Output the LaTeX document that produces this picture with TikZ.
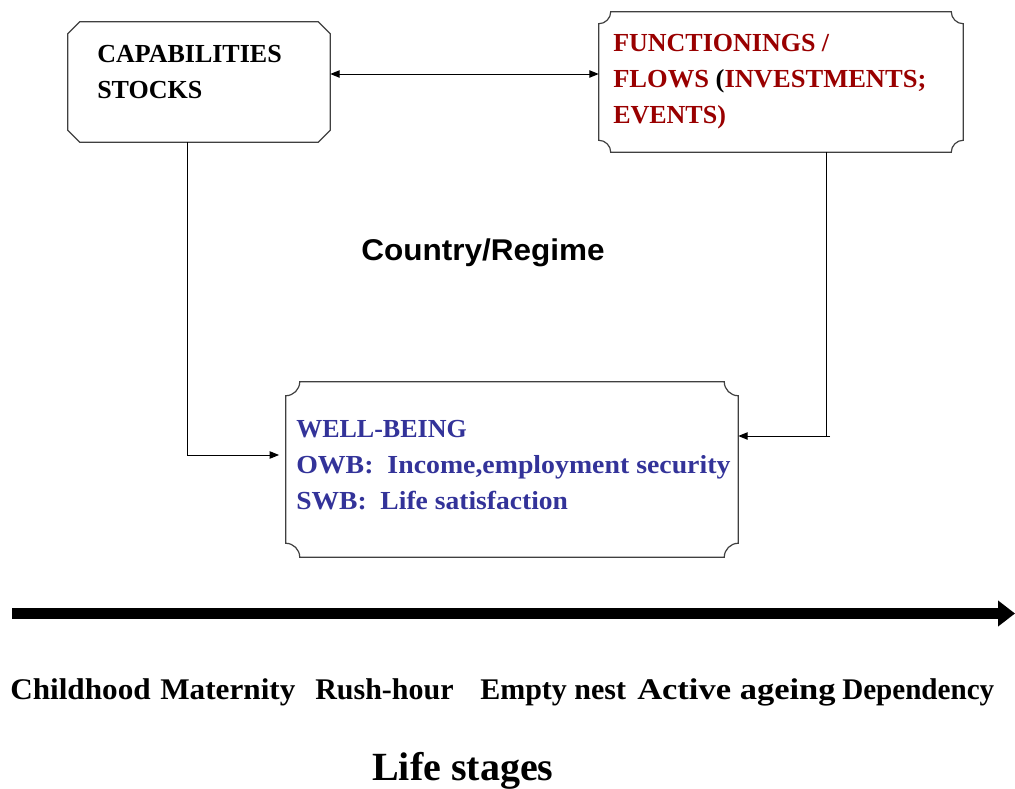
\documentclass[tikz,border=0pt]{standalone}
\usepackage{fontspec}
\setmainfont{Liberation Serif}
\newfontfamily\arialfont{Liberation Sans}
\usetikzlibrary{arrows.meta,calc}
\definecolor{darkred}{RGB}{153,0,0}
\definecolor{wbblue}{RGB}{51,51,153}
\newcommand\chamferoutline[2]{%
  \draw[boxline] ($(#1.north west)+(#2,0)$) -- ($(#1.north east)+(-#2,0)$) -- ($(#1.north east)+(0,#2)$)
    -- ($(#1.south east)+(0,-#2)$) -- ($(#1.south east)+(-#2,0)$) -- ($(#1.south west)+(#2,0)$)
    -- ($(#1.south west)+(0,-#2)$) -- ($(#1.north west)+(0,#2)$) -- cycle;}
\newcommand\plaqueoutline[2]{%
  \draw[boxline] ($(#1.north west)+(#2,0)$) -- ($(#1.north east)+(-#2,0)$)
    .. controls ($(#1.north east)+(-#2,0.55*#2)$) and ($(#1.north east)+(-0.55*#2,#2)$) .. ($(#1.north east)+(0,#2)$)
    -- ($(#1.south east)+(0,-#2)$)
    .. controls ($(#1.south east)+(-0.55*#2,-#2)$) and ($(#1.south east)+(-#2,-0.55*#2)$) .. ($(#1.south east)+(-#2,0)$)
    -- ($(#1.south west)+(#2,0)$)
    .. controls ($(#1.south west)+(#2,-0.55*#2)$) and ($(#1.south west)+(0.55*#2,-#2)$) .. ($(#1.south west)+(0,-#2)$)
    -- ($(#1.north west)+(0,#2)$)
    .. controls ($(#1.north west)+(0.55*#2,#2)$) and ($(#1.north west)+(#2,0.55*#2)$) .. cycle;}
\begin{document}
\begin{tikzpicture}[x=0.75pt,y=-0.75pt,
  boxline/.style={draw=black!75, line width=0.9pt},
  shapebox/.style={draw=none, inner sep=0pt},
  conn/.style={line width=0.75pt, -{Triangle[length=7pt,width=5.5pt]}},
  boxtext/.style={anchor=north west, inner sep=0pt, align=left, font=\fontsize{19.5}{27}\selectfont\bfseries},
  stage/.style={anchor=base west, inner sep=0pt, font=\fontsize{22.5}{27}\selectfont\bfseries}
]
\useasboundingbox (0,0) rectangle (1015,789);

% boxes
\node[shapebox, minimum width=196.5pt, minimum height=90pt] (b1) at (199,82) {};
\node[shapebox, minimum width=273pt, minimum height=105pt] (b2) at (781,82) {};
\node[shapebox, minimum width=339pt, minimum height=131.25pt] (b3) at (512,469.5) {};
\chamferoutline{b1}{12}
\plaqueoutline{b2}{12}
\plaqueoutline{b3}{14}

% box texts
\node[boxtext] (t1) at (97,45) {CAPABILITIES\\STOCKS};
\node[boxtext, text=darkred] (t2) at (613,34) {FUNCTIONINGS /\\\scalebox{1.02}[1]{FLOWS {\color{black}(}INVESTMENTS;}\\EVENTS)};
\node[boxtext, text=wbblue] (t3) at (296,420) {WELL-BEING\\\scalebox{1.07}[1]{OWB:~ Income,employment security}\\\scalebox{1.06}[1]{SWB:~ Life satisfaction}};

% connectors
\coordinate (dy) at (0,74);
\draw[line width=0.75pt, {Triangle[length=7pt,width=5.5pt]}-{Triangle[length=7pt,width=5.5pt]}] (b1.east |- dy) -- (b2.west |- dy);
\coordinate (lx) at (187,455);
\draw[conn, shorten >=5pt] (b1.south -| lx) -- (lx) -- (b3.west |- lx);
\coordinate (rx) at (826,436);
\draw[line width=0.75pt] (b2.south -| rx) -- (rx);
\draw[conn] ($(rx)+(4,0)$) -- (b3.east |- rx);

% middle label
\node[anchor=base, inner sep=0pt, font=\arialfont\bfseries\fontsize{22.5}{26}\selectfont] (country) at (483,260) {\scalebox{1.05}[1]{Country/Regime}};

% timeline arrow
\coordinate (ta) at (12,613.5);
\coordinate (tb) at (1015,613.5);
\draw[line width=8.25pt, -{Triangle[length=12.75pt,width=18.75pt]}] (ta) -- (tb);

% stages
\node[stage] (s1) at (10,699) {\scalebox{1.04}[1]{Childhood}};
\node[stage] (s2) at (160,699) {\scalebox{1.04}[1]{Maternity}};
\node[stage] (s3) at (315,699) {Rush-hour};
\node[stage] (s4) at (480,699) {Empty nest};
\node[stage] (s5) at (637,699) {\scalebox{1.15}[1]{Active ageing}};
\node[stage] (s6) at (842,699) {\scalebox{0.97}[1]{Dependency}};

\node[anchor=base west, inner sep=0pt, font=\fontsize{30}{34}\selectfont\bfseries] (ls) at (372,780) {Life stages};
\end{tikzpicture}
\end{document}
